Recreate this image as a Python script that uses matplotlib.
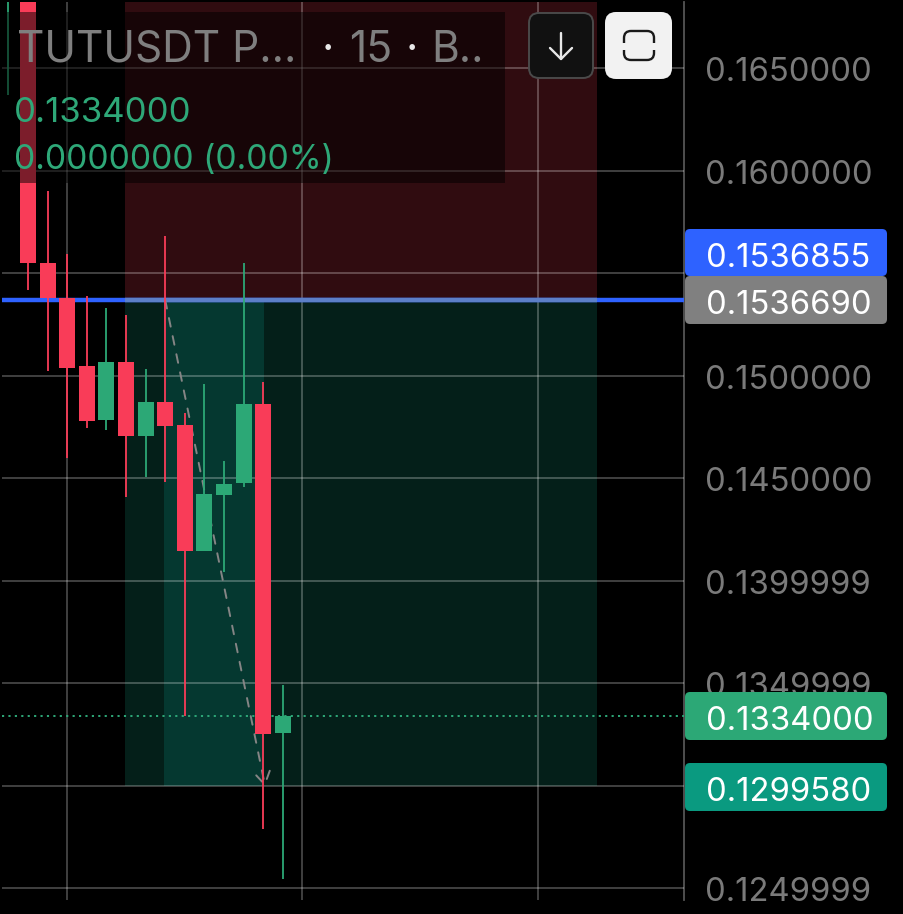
import matplotlib
matplotlib.use("Agg")
import matplotlib.pyplot as plt
from matplotlib.patches import FancyBboxPatch, Rectangle
from matplotlib.transforms import ScaledTranslation

# ---- data (prices) ----
candle_index = [-1, 0, 1, 2, 3, 4, 5, 6, 7, 8, 9, 10, 11, 12, 13]
opens  = [0.16900, 0.16900, 0.15549, 0.15378, 0.15046, 0.14783, 0.15066, 0.14705, 0.14871, 0.14759, 0.14144, 0.14417, 0.14476, 0.14861, 0.13256]
closes = [0.17000, 0.15549, 0.15378, 0.15037, 0.14778, 0.15066, 0.14705, 0.14871, 0.14754, 0.14144, 0.14422, 0.14471, 0.14861, 0.13251, 0.13340]
highs  = [0.17000, 0.16900, 0.15900, 0.15593, 0.15388, 0.15329, 0.15295, 0.15032, 0.15680, 0.14817, 0.14959, 0.14583, 0.15549, 0.14968, 0.13490]
lows   = [0.16368, 0.15417, 0.15022, 0.14598, 0.14744, 0.14734, 0.14407, 0.14505, 0.14480, 0.13339, 0.14144, 0.14041, 0.14456, 0.12788, 0.12544]

price_ticks = [0.1650000, 0.1600000, 0.1550000, 0.1500000, 0.1450000, 0.1399999, 0.1349999, 0.1249999, 0.1300000]
price_tick_labels = ["0.1650000", "0.1600000", "", "0.1500000", "0.1450000", "0.1399999", "0.1349999", "0.1249999", ""]
time_ticks = [2, 14, 26]

entry_price = 0.1536855
mark_price = 0.1536690
target_price = 0.1299580
stop_price = 0.1690000
last_price = 0.1334000
zone_start, zone_end = 4.95, 29.03
band_start, band_end = 6.94, 12.04
arrow_start, arrow_end = 7.0, 12.1

title_parts = ["TUTUSDT P...", "·", "15", "·", "B.."]
ohlc_line = "0.1334000"
change_line = "0.0000000 (0.00%)"
tag_labels = ["0.1536855", "0.1536690", "0.1334000", "0.1299580"]
tag_colors = ["#2e62ff", "#808080", "#2ca876", "#0a9a80"]

RED, GREEN = "#f93c58", "#2ca876"
plt.rcParams["font.family"] = ["Inter", "DejaVu Sans"]
TICK_FS = 23.6
TITLE_FS = 30.6

W, H = 903, 914
fig = plt.figure(figsize=((W + 0.01) / 100, (H + 0.01) / 100), dpi=100, facecolor="black")
L, R, T, B = 2, 684, 2, 900
ax = fig.add_axes([L / W, 1 - B / H, (R - L) / W, (B - T) / H], facecolor="black")
ax.set_xlim(-1.327, 33.47)
ax.set_ylim(0.124415, 0.168220)

for s in ("left", "top", "bottom"):
    ax.spines[s].set_visible(False)
ax.spines["right"].set_color("#555555")
ax.spines["right"].set_linewidth(1.3)

ax.yaxis.tick_right()
ax.set_yticks(price_ticks)
ax.set_yticklabels(price_tick_labels, fontsize=TICK_FS, color="#7a7a7a", va="center_baseline")
ax.tick_params(axis="y", length=0, pad=15.2)
shift = ScaledTranslation(0, -0.9 / 72, fig.dpi_scale_trans)
for lab in ax.get_yticklabels():
    lab.set_transform(lab.get_transform() + shift)
ax.set_xticks(time_ticks)
ax.set_xticklabels([])
ax.tick_params(axis="x", length=0)
ax.grid(True, color="white", alpha=0.27, linewidth=1.3, zorder=2)
ax.set_axisbelow(False)
for gl in ax.get_xgridlines() + ax.get_ygridlines():
    gl.set_zorder(2)

# position zones
ax.axhspan(entry_price, stop_price, xmin=(zone_start + 1.327) / 34.797, xmax=(zone_end + 1.327) / 34.797,
           facecolor="#300c10", edgecolor="none", zorder=1)
ax.axhspan(target_price, entry_price, xmin=(zone_start + 1.327) / 34.797, xmax=(zone_end + 1.327) / 34.797,
           facecolor="#041f19", edgecolor="none", zorder=1)
ax.axhspan(target_price, entry_price, xmin=(band_start + 1.327) / 34.797, xmax=(band_end + 1.327) / 34.797,
           facecolor="#053830", edgecolor="none", zorder=1.1)

# entry line
ax.axhline(entry_price, color="#2e62ff", linewidth=3.2, zorder=3, solid_capstyle="butt")
ax.plot([zone_start, zone_end], [entry_price, entry_price], color="#5c7fc8", linewidth=3.2,
        zorder=3.1, solid_capstyle="butt")

# last-price dotted line
ax.axhline(last_price, color="#2ea878", linewidth=1.4, linestyle=(0, (1.1, 2.2)), zorder=3.2)

# projection arrow
ax.annotate("", xy=(arrow_end, target_price), xytext=(arrow_start, entry_price), zorder=3.3,
            arrowprops=dict(arrowstyle="->,head_length=0.9,head_width=0.55", color="#858585",
                            linewidth=1.4, linestyle=(0, (4.5, 5)), shrinkA=0, shrinkB=0))

# candles
for i, o, c, h, l in zip(candle_index, opens, closes, highs, lows):
    col = GREEN if c >= o else RED
    ax.vlines(i, l, h, color=col, linewidth=1.3, zorder=4)
    ax.bar(i, abs(c - o), bottom=min(o, c), width=0.82, color=col, linewidth=0, zorder=4.1)

# overlay in pixel space for the UI chrome
ui = fig.add_axes([0, 0, 1, 1], facecolor="none")
ui.set_xlim(0, W)
ui.set_ylim(H, 0)
ui.axis("off")

ui.add_patch(Rectangle((2, 12), 503, 171, facecolor="black", alpha=0.5, edgecolor="none", zorder=1))

TC = "#7f7f7f"
ui.text(17, 50, title_parts[0], fontsize=TITLE_FS, color=TC, va="center", ha="left", zorder=2)
ui.text(328, 50, title_parts[1], fontsize=TITLE_FS, color="#e8e8e8", va="center", ha="center", zorder=2)
ui.text(371, 50, title_parts[2], fontsize=TITLE_FS, color=TC, va="center", ha="center", zorder=2)
ui.text(412, 50, title_parts[3], fontsize=TITLE_FS, color="#e8e8e8", va="center", ha="center", zorder=2)
ui.text(431, 50, title_parts[4], fontsize=TITLE_FS, color=TC, va="center", ha="left", zorder=2)
ui.text(14, 113, ohlc_line, fontsize=25, color="#2ea878", va="center", ha="left", zorder=2)
ui.text(14, 160, change_line, fontsize=24.2, color="#2ea878", va="center", ha="left", zorder=2)


def rbox(x0, y0, x1, y1, r, fc, ec="none", lw=0, z=3.0):
    ui.add_patch(FancyBboxPatch((x0 + r, y0 + r), x1 - x0 - 2 * r, y1 - y0 - 2 * r,
                                boxstyle=f"round,pad={r},rounding_size={r}",
                                facecolor=fc, edgecolor=ec, linewidth=lw, zorder=z))


# buttons
rbox(529, 13, 593, 78, 10, "#111111", "#4a4a4a", 1.4)
ui.plot([561, 561], [33, 59], color="#e8e8e8", lw=1.7, zorder=4, solid_capstyle="round")
ui.plot([550, 561, 572], [48, 59, 48], color="#e8e8e8", lw=1.7, zorder=4, solid_capstyle="round",
        solid_joinstyle="round")
rbox(605, 12, 672, 79, 11, "#f2f2f2")
rbox(624, 31, 654, 60, 7, "none", "#1a1a1a", 1.7, z=3.5)
ui.add_patch(Rectangle((620, 43), 38, 7, facecolor="#f2f2f2", edgecolor="none", zorder=3.6))

# price tags
boxes = [(229, 276), (276, 324), (692, 740), (763, 811)]
for k in range(4):
    y0, y1 = boxes[k]
    rbox(685, y0, 887, y1, 5, tag_colors[k], z=3 + k * 0.01)
    ui.text(705.5, (y0 + y1) / 2 + 2, tag_labels[k], fontsize=TICK_FS, color="white",
            va="center_baseline", ha="left", zorder=5)

fig.savefig("out.png", dpi=100, facecolor="black")
